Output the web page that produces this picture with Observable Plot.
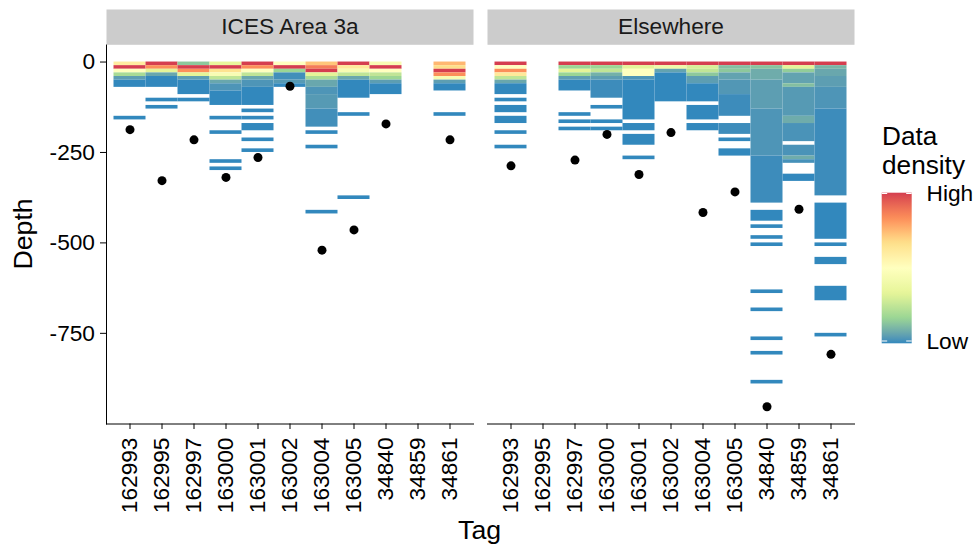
<!DOCTYPE html>
<html>
<head>
<meta charset="utf-8">
<script src="https://cdn.jsdelivr.net/npm/d3@7"></script>
<script src="https://cdn.jsdelivr.net/npm/@observablehq/plot@0.6"></script>
<style>
  html, body { margin: 0; padding: 0; background: #fff; }
  #chart { width: 977px; height: 545px; }
</style>
</head>
<body>
<div id="chart"></div>
<script>
// ---------------- data ----------------
const areas = ["ICES Area 3a", "Elsewhere"];
const tags = ["162993", "162995", "162997", "163000", "163001", "163002", "163004", "163005", "34840", "34859", "34861"];
const binDepth = 10; // depth bin height (m)
const yTicks = [-750, -500, -250, 0];
const densityLabels = ["Low", "High"];
const densityDomain = [0, 1];
const spectral7 = ["#3288BD", "#99D594", "#E6F598", "#FFFFBF", "#FEE08B", "#FC8D59", "#D53E4F"];

// runs of depth bins: [tag, first bin, last bin, relative data density]
const ices3aTiles = [
  ["162993",0,0,0.6],["162993",1,1,1],["162993",2,2,0.5],["162993",3,3,0.2],["162993",4,4,0.05],["162993",5,6,0],["162993",15,15,0],
  ["162995",0,0,1],["162995",1,1,0.83],["162995",2,2,0.33],["162995",3,3,0.07],["162995",4,6,0],["162995",10,10,0],["162995",12,12,0],
  ["162997",0,0,0.14],["162997",1,1,1],["162997",2,2,0.83],["162997",3,3,0.33],["162997",4,4,0.05],["162997",5,8,0],["162997",10,10,0],
  ["163000",0,0,0.35],["163000",1,1,1],["163000",2,2,0.65],["163000",3,3,0.45],["163000",4,4,0.25],["163000",5,5,0.07],["163000",6,7,0.03],["163000",8,11,0],["163000",15,15,0],["163000",19,19,0],["163000",27,27,0],["163000",29,29,0],
  ["163001",0,0,1],["163001",1,1,0.83],["163001",2,2,0.5],["163001",3,3,0.25],["163001",4,4,0.07],["163001",5,6,0.03],["163001",7,11,0],["163001",13,13,0],["163001",15,15,0],["163001",17,18,0],["163001",21,21,0],["163001",24,24,0],
  ["163002",0,0,0.5],["163002",1,1,1],["163002",2,2,0.17],["163002",3,4,0.015],["163002",5,5,0.04],["163002",6,6,0],
  ["163004",0,0,0.72],["163004",1,1,0.87],["163004",2,2,1],["163004",3,3,0.33],["163004",4,4,0.2],["163004",5,6,0.07],["163004",7,8,0.03],["163004",9,12,0.04],["163004",13,17,0.015],["163004",19,19,0],["163004",23,23,0],["163004",41,41,0],
  ["163005",0,0,1],["163005",1,1,0.62],["163005",2,2,0.45],["163005",3,3,0.25],["163005",4,4,0.07],["163005",5,9,0],["163005",14,14,0],["163005",37,37,0],
  ["34840",0,0,0.45],["34840",1,1,1],["34840",2,2,0.5],["34840",3,3,0.25],["34840",4,4,0.17],["34840",5,5,0.05],["34840",6,8,0],
  ["34861",0,0,0.75],["34861",1,1,0.67],["34861",2,2,1],["34861",3,3,0.83],["34861",4,4,0.45],["34861",5,5,0.05],["34861",6,7,0],["34861",14,14,0]
];
const elsewhereTiles = [
  ["162993",0,0,1],["162993",1,1,0.5],["162993",2,2,0.83],["162993",3,3,0.62],["162993",4,4,0.25],["162993",5,5,0.07],["162993",6,8,0],["162993",10,10,0],["162993",12,13,0],["162993",15,16,0],["162993",19,19,0],["162993",23,23,0],
  ["162997",0,0,1],["162997",1,1,0.17],["162997",2,2,0.33],["162997",3,3,0.17],["162997",4,4,0.05],["162997",5,7,0],["162997",14,14,0],["162997",16,16,0],["162997",18,18,0],
  ["163000",0,0,1],["163000",1,1,0.17],["163000",2,2,0.25],["163000",3,3,0.09],["163000",4,4,0.05],["163000",5,9,0.01],["163000",12,12,0],["163000",16,16,0],["163000",18,18,0],
  ["163001",0,0,1],["163001",1,1,0.33],["163001",2,3,0.5],["163001",4,4,0.03],["163001",5,15,0],["163001",17,18,0],["163001",20,22,0],["163001",26,26,0],
  ["163002",0,0,1],["163002",1,1,0.4],["163002",2,2,0.06],["163002",3,10,0],
  ["163004",0,0,1],["163004",1,1,0.3],["163004",2,2,0.25],["163004",3,3,0.14],["163004",4,5,0.05],["163004",6,10,0],["163004",12,15,0],["163004",17,18,0],
  ["163005",0,0,1],["163005",1,1,0.12],["163005",2,2,0.14],["163005",3,4,0.06],["163005",5,8,0.035],["163005",9,14,0.01],["163005",17,19,0.01],["163005",21,21,0],["163005",24,25,0],
  ["34840",0,0,1],["34840",1,1,0.13],["34840",2,4,0.08],["34840",5,12,0.05],["34840",13,25,0.03],["34840",26,38,0.01],["34840",41,43,0],["34840",45,45,0],["34840",48,48,0],["34840",50,50,0],["34840",63,63,0],["34840",68,68,0],["34840",76,76,0],["34840",80,80,0],["34840",88,88,0],
  ["34859",0,0,1],["34859",1,1,0.33],["34859",2,2,0.15],["34859",3,5,0.06],["34859",6,6,0.12],["34859",7,14,0.04],["34859",15,16,0.08],["34859",17,21,0.025],["34859",23,25,0.025],["34859",26,26,0.08],["34859",27,27,0.02],["34859",31,32,0],
  ["34861",0,0,1],["34861",1,1,0.1],["34861",2,3,0.07],["34861",4,6,0.05],["34861",7,12,0.03],["34861",13,36,0.01],["34861",39,48,0],["34861",50,50,0],["34861",54,55,0],["34861",62,65,0],["34861",75,75,0]
];

// deepest recorded depth per tag (aligned with tags; null = none)
const ices3aDeepest =   [-187, -328, -215, -319, -264, -67, -520, -464, -171, null, -215];
const elsewhereDeepest = [-287, null, -271, -200, -311, -195, -416, -359, -953, -407, -808];

// ---------------- build tables ----------------
const tiles = [];
[[areas[0], ices3aTiles], [areas[1], elsewhereTiles]].forEach(([area, runs]) =>
  runs.forEach(([tag, b0, b1, d]) => tiles.push({area, tag, top: -b0 * binDepth, bottom: -(b1 + 1) * binDepth, density: d})));
const points = [];
[[areas[0], ices3aDeepest], [areas[1], elsewhereDeepest]].forEach(([area, vals]) =>
  vals.forEach((v, i) => { if (v != null) points.push({area, tag: tags[i], depth: v}); }));

const [lo, hi] = d3.extent([...tiles.flatMap(t => [t.top, t.bottom]), ...points.map(p => p.depth)]);
const pad = (hi - lo) * 0.05;

// ---------------- layout ----------------
const W = 977, H = 545;
const M = {top: 44.3, right: 123.3, bottom: 121.5, left: 105.5};
const panelH = H - M.top - M.bottom;
const stripH = 35.3;
const font = "'Liberation Sans', Arial, Helvetica, sans-serif";
const colorStops = spectral7.map((_, i) => densityDomain[0] + (densityDomain[1] - densityDomain[0]) * i / (spectral7.length - 1));

const plot = Plot.plot({
  width: W,
  height: H,
  marginTop: M.top,
  marginRight: M.right,
  marginBottom: M.bottom,
  marginLeft: M.left,
  style: {fontFamily: font, fontSize: "22.7px", background: "#fff", color: "#000", overflow: "visible"},
  fx: {domain: areas, paddingInner: 14 / 381, paddingOuter: 0, axis: null, label: null},
  x: {domain: tags, paddingInner: 0, paddingOuter: 0.1, label: null, tickRotate: -90, tickSize: 5.5, tickPadding: 8, line: true},
  y: {domain: [lo - pad, hi + pad], ticks: yTicks, tickFormat: d => String(d), tickSize: 6, tickPadding: 5.5, label: null, line: true},
  color: {type: "linear", domain: colorStops, range: spectral7, interpolate: "lab"},
  marks: [
    Plot.frame({fill: "#cccccc", stroke: "none", insetTop: -stripH, insetBottom: panelH}),
    Plot.text(areas, {fx: d => d, text: d => d, frameAnchor: "top", lineAnchor: "middle", dy: -stripH / 2, fontSize: 22.7, fill: "#1a1a1a"}),
    Plot.barY(tiles, {fx: "area", x: "tag", y1: "top", y2: "bottom", fill: "density"}),
    Plot.dot(points, {fx: "area", x: "tag", y: "depth", r: 4.5, fill: "#000", stroke: "none"})
  ]
});
document.getElementById("chart").appendChild(plot);

// ---------------- titles & legend ----------------
const svg = d3.select(plot);
svg.append("text")
  .attr("transform", `translate(32,${M.top + panelH / 2}) rotate(-90)`)
  .attr("text-anchor", "middle").attr("font-size", 26.7).attr("fill", "#000")
  .text("Depth");
svg.append("text")
  .attr("x", (M.left + W - M.right) / 2).attr("y", 538.5)
  .attr("text-anchor", "middle").attr("font-size", 26.7).attr("fill", "#000")
  .text("Tag");

const cs = plot.scale("color");
const [dMin, dMax] = d3.extent(cs.domain);
const lg = svg.append("g").attr("text-anchor", "start");
lg.append("text").attr("x", 882).attr("y", 144.5).attr("text-anchor", "start").attr("font-size", 26.2).attr("fill", "#000").text("Data");
lg.append("text").attr("x", 882).attr("y", 174).attr("text-anchor", "start").attr("font-size", 26.2).attr("fill", "#000").text("density");
const grad = svg.append("defs").append("linearGradient")
  .attr("id", "densRamp").attr("x1", 0).attr("y1", 1).attr("x2", 0).attr("y2", 0);
d3.range(0, 41).forEach(i => {
  const t = i / 40;
  grad.append("stop").attr("offset", t).attr("stop-color", cs.apply(dMin + (dMax - dMin) * t));
});
const barX = 881.7, barW = 30, barTop = 192.7, barBot = 343.3;
const ly = d3.scaleLinear().domain([dMin, dMax]).range([341, 193.5]);
lg.append("rect").attr("x", barX).attr("y", barTop).attr("width", barW).attr("height", barBot - barTop).attr("fill", "url(#densRamp)");
[dMin, dMax].forEach((v, i) => {
  const y = ly(v);
  lg.append("line").attr("x1", barX).attr("x2", barX + 5.5).attr("y1", y).attr("y2", y).attr("stroke", "#fff").attr("stroke-width", 1);
  lg.append("line").attr("x1", barX + barW - 5.5).attr("x2", barX + barW).attr("y1", y).attr("y2", y).attr("stroke", "#fff").attr("stroke-width", 1);
  lg.append("text").attr("x", 926.5).attr("y", y).attr("dy", "0.35em").attr("text-anchor", "start").attr("font-size", 22.7).attr("fill", "#000").text(densityLabels[i]);
});
</script>
</body>
</html>
